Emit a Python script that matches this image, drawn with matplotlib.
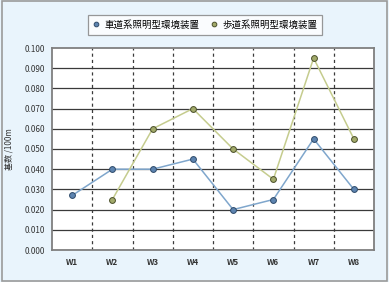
import matplotlib.pyplot as plt
import numpy as np

plt.rcParams['font.family'] = ['Noto Sans CJK JP', 'DejaVu Sans']

weeks = ['W1', 'W2', 'W3', 'W4', 'W5', 'W6', 'W7', 'W8']
shadou = [0.027, 0.040, 0.040, 0.045, 0.020, 0.025, 0.055, 0.030]
hodou = [np.nan, 0.025, 0.060, 0.070, 0.050, 0.035, 0.095, 0.055]
labels = ['車道系照明型環境装置', '歩道系照明型環境装置']

W, H = 389, 282
fig = plt.figure(figsize=(W / 100, H / 100), dpi=100, facecolor='#e9f4fc')
fig.patches.append(plt.Rectangle((0.005, 0.005), 0.99, 0.99, transform=fig.transFigure,
                                 fill=False, edgecolor='#9a9a9a', linewidth=1.2))

ax = fig.add_axes([52 / W, 1 - 250 / H, 322 / W, 202 / H])
ax.set_facecolor('white')

x = np.arange(len(weeks))
ax.plot(x, shadou, color='#7fa6cc', linewidth=1.1, marker='o', markersize=4.2,
        markerfacecolor='#5d84b0', markeredgecolor='#2e4a6a', markeredgewidth=0.7, label=labels[0])
ax.plot(x, hodou, color='#c5cc8e', linewidth=1.1, marker='o', markersize=4.2,
        markerfacecolor='#a2aa6a', markeredgecolor='#4a4f2a', markeredgewidth=0.7, label=labels[1])

ax.set_xlim(-0.5, len(weeks) - 0.5)
ax.set_ylim(0, 0.1)
ax.set_yticks(np.arange(0, 0.1001, 0.01))
ax.set_yticklabels([f'{v:.3f}' for v in np.arange(0, 0.1001, 0.01)])
ax.set_xticks(x)
ax.set_xticklabels(weeks, fontweight='bold')
ax.tick_params(axis='both', length=0, labelsize=5.8, colors='#333333')
ax.tick_params(axis='x', pad=6)
ax.tick_params(axis='y', pad=5)

for v in np.arange(0.01, 0.1, 0.01):
    ax.axhline(v, color='#3a3a3a', linewidth=0.9, zorder=0)
for b in np.arange(0.5, len(weeks) - 0.5, 1):
    ax.axvline(b, color='#3a3a3a', linewidth=0.9, linestyle=(0, (2.5, 2.5)), zorder=0)

for s in ax.spines.values():
    s.set_color('#7f7f7f')
    s.set_linewidth(1.3)

ax.set_ylabel('基数 /100m', fontsize=5.8, color='#333333', labelpad=8)

leg = fig.legend(loc='center', bbox_to_anchor=(205 / W, 1 - 25 / H), ncol=2,
                 fontsize=6.8, frameon=True, fancybox=False, handlelength=0.8,
                 handletextpad=0.5, columnspacing=1.1, borderpad=0.5, markerscale=0.8)
for h in leg.get_lines():
    h.set_linestyle('none')
leg.get_frame().set_edgecolor('#7f7f7f')
leg.get_frame().set_linewidth(0.9)

fig.savefig('out.png', dpi=100, facecolor=fig.get_facecolor())
